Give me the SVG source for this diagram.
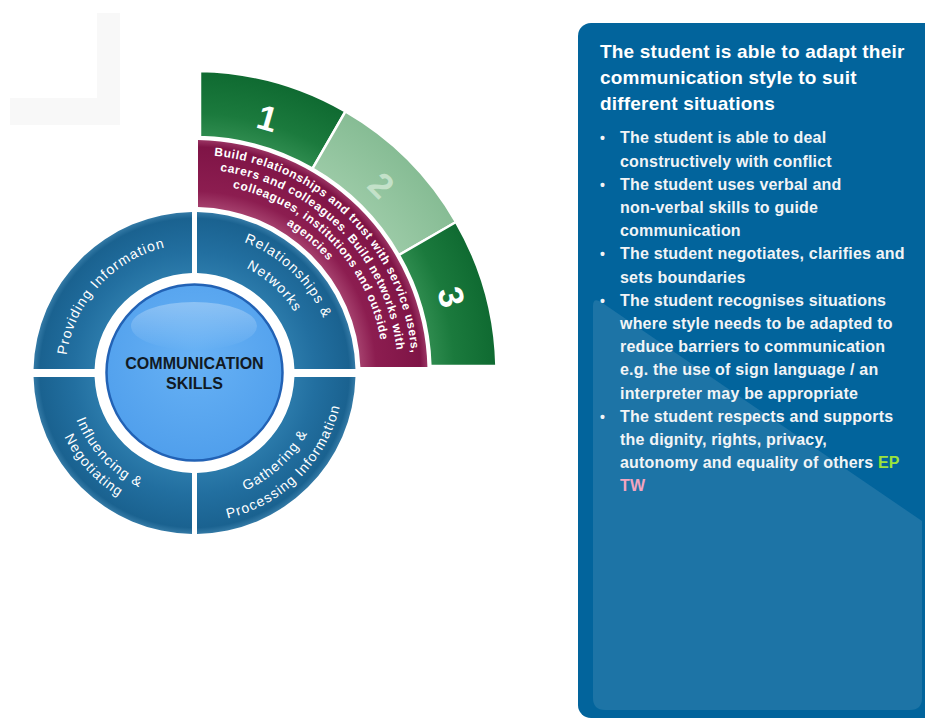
<svg xmlns="http://www.w3.org/2000/svg" width="925" height="719" viewBox="0 0 925 719">
<style>
text{font-family:"Liberation Sans",Arial,sans-serif}
.num{font-size:35px;font-weight:bold;fill:#fff;text-anchor:middle}
.mag{font-size:12px;font-weight:bold;fill:#fff;letter-spacing:0.6px}
.blu{font-size:14px;fill:#fff;letter-spacing:1.1px}
.ctr{font-size:16px;font-weight:bold;fill:#111a24;text-anchor:middle}
.hd{font-size:19px;font-weight:bold;fill:#fff;letter-spacing:0.2px}
.bl{font-size:16px;font-weight:bold;fill:#f2f4f6;letter-spacing:0.2px}
.dot{font-size:14px;font-weight:bold;fill:#f2f4f6}
.gseg{stroke:#fff;stroke-width:2.5;stroke-linejoin:round}
</style>
<defs>
<radialGradient id="gBlue" gradientUnits="userSpaceOnUse" cx="194.5" cy="373" r="161">
<stop offset="0.62" stop-color="#2b7aaa"/>
<stop offset="0.75" stop-color="#226fa0"/>
<stop offset="0.96" stop-color="#1a6290"/>
<stop offset="1" stop-color="#347aa6"/>
</radialGradient>
<radialGradient id="gMag" gradientUnits="userSpaceOnUse" cx="194.5" cy="373" r="233">
<stop offset="0.71" stop-color="#a5406d"/>
<stop offset="0.78" stop-color="#8c1d50"/>
<stop offset="0.97" stop-color="#7f1446"/>
<stop offset="1" stop-color="#9a3463"/>
</radialGradient>
<radialGradient id="gGreen" gradientUnits="userSpaceOnUse" cx="194.5" cy="373" r="302">
<stop offset="0.78" stop-color="#2f8c4f"/>
<stop offset="0.86" stop-color="#1b7a3d"/>
<stop offset="1" stop-color="#0f6a31"/>
</radialGradient>
<radialGradient id="gLight" gradientUnits="userSpaceOnUse" cx="194.5" cy="373" r="302">
<stop offset="0.78" stop-color="#9bcaa6"/>
<stop offset="1" stop-color="#86bc94"/>
</radialGradient>
<radialGradient id="gCore" cx="0.5" cy="0.4" r="0.6">
<stop offset="0" stop-color="#68b2f5"/>
<stop offset="1" stop-color="#509fec"/>
</radialGradient>
<linearGradient id="gShine" x1="0" y1="0" x2="0" y2="1">
<stop offset="0" stop-color="#ffffff" stop-opacity="0.3"/>
<stop offset="1" stop-color="#ffffff" stop-opacity="0"/>
</linearGradient>
<path id="m1" d="M194.5,155 A218,218 0 0 1 412.5,373"/>
<path id="m2" d="M194.5,169.5 A203.5,203.5 0 0 1 398,373"/>
<path id="m3" d="M194.5,184 A189,189 0 0 1 383.5,373"/>
<path id="m4" d="M194.5,198.5 A174.5,174.5 0 0 1 369,373"/>
<path id="tr1" d="M194.5,233 A140,140 0 0 1 334.5,373"/>
<path id="tr2" d="M194.5,256 A117,117 0 0 1 311.5,373"/>
<path id="tl1" d="M65.5,373 A129,129 0 0 1 194.5,244"/>
<path id="bl1" d="M67.5,373 A127,127 0 0 0 194.5,500"/>
<path id="bl2" d="M49.5,373 A145,145 0 0 0 194.5,518"/>
<path id="br1" d="M194.5,501 A128,128 0 0 0 322.5,373"/>
<path id="br2" d="M194.5,522 A149,149 0 0 0 343.5,373"/>
</defs>
<rect width="925" height="719" fill="#fff"/>
<path d="M97,13 L120,13 L120,125 L10,125 L10,98 L97,98 Z" fill="#f8f8f8"/>

<g id="level-1">
<path class="gseg" fill="url(#gGreen)" d="M200,71.05 A302,302 0 0 1 345.5,111.46 L312.5,168.62 A236,236 0 0 0 200,137.06 Z"/>
<text class="num" transform="translate(267.5,118) rotate(16)" y="12.5">1</text>
</g>
<g id="level-2">
<path class="gseg" fill="url(#gLight)" d="M345.5,111.46 A302,302 0 0 1 456.04,222 L398.88,255 A236,236 0 0 0 312.5,168.62 Z"/>
<text class="num" style="fill:#c3e1c9" transform="translate(381.5,185) rotate(45)" y="12.5">2</text>
</g>
<g id="level-3">
<path class="gseg" fill="url(#gGreen)" d="M456.04,222 A302,302 0 0 1 496.42,366 L430.4,366 A236,236 0 0 0 398.88,255 Z"/>
<text class="num" transform="translate(451.5,297) rotate(75)" y="12.5">3</text>
</g>

<g id="description">
<path fill="url(#gMag)" d="M198,140.03 A233,233 0 0 1 427.42,367 L360.39,367 A166,166 0 0 0 198,207.04 Z"/>
<text class="mag"><textPath href="#m1" startOffset="50%" text-anchor="middle">Build relationships and trust with service users,</textPath></text>
<text class="mag"><textPath href="#m2" startOffset="50.5%" text-anchor="middle">carers and colleagues. Build networks with</textPath></text>
<text class="mag"><textPath href="#m3" startOffset="51%" text-anchor="middle">colleagues, institutions and outside</textPath></text>
<text class="mag"><textPath href="#m4" startOffset="45.5%" text-anchor="middle">agencies</textPath></text>
</g>

<g id="relationships-networks">
<path fill="url(#gBlue)" d="M197,212.02 A161,161 0 0 1 355.45,369 L294.42,369 A100,100 0 0 0 197,273.03 Z"/>
<text class="blu"><textPath href="#tr1" startOffset="48.9%" text-anchor="middle">Relationships &amp;</textPath></text>
<text class="blu"><textPath href="#tr2" startOffset="47.4%" text-anchor="middle">Networks</textPath></text>
</g>

<g id="providing-information">
<path fill="url(#gBlue)" d="M33.55,369 A161,161 0 0 1 192,212.02 L192,273.03 A100,100 0 0 0 94.58,369 Z"/>
<text class="blu"><textPath href="#tl1" startOffset="47.2%" text-anchor="middle">Providing Information</textPath></text>
</g>

<g id="influencing-negotiating">
<path fill="url(#gBlue)" d="M192,533.98 A161,161 0 0 1 33.55,377 L94.58,377 A100,100 0 0 0 192,472.97 Z"/>
<text class="blu"><textPath href="#bl1" startOffset="47.8%" text-anchor="middle">Influencing &amp;</textPath></text>
<text class="blu"><textPath href="#bl2" startOffset="47.2%" text-anchor="middle">Negotiating</textPath></text>
</g>

<g id="gathering-processing">
<path fill="url(#gBlue)" d="M355.45,377 A161,161 0 0 1 197,533.98 L197,472.97 A100,100 0 0 0 294.42,377 Z"/>
<text class="blu"><textPath href="#br1" startOffset="47.5%" text-anchor="middle">Gathering &amp;</textPath></text>
<text class="blu"><textPath href="#br2" startOffset="50%" text-anchor="middle">Processing Information</textPath></text>
</g>

<g id="communication-skills">
<circle cx="194.5" cy="372.5" r="88" fill="url(#gCore)" stroke="#2262b5" stroke-width="2.5"/>
<ellipse cx="194" cy="326" rx="63" ry="24" fill="url(#gShine)"/>
<text class="ctr" x="194.5" y="369">COMMUNICATION</text>
<text class="ctr" x="194.5" y="389">SKILLS</text>
</g>

<g id="connectors"></g>

<g id="info-panel">
<rect x="578" y="23" width="400" height="695" rx="13" fill="#02649c"/>
<path d="M593,306 Q593,297 601,302 L922,521 L922,698 Q922,710 910,710 L605,710 Q593,710 593,698 Z" fill="#1d74a6"/>
<text class="hd" x="600" y="58">The student is able to adapt their</text>
<text class="hd" x="600" y="84">communication style to suit</text>
<text class="hd" x="600" y="110">different situations</text>
<text class="dot" x="600" y="143.3">•</text>
<text class="bl" x="620" y="143.3">The student is able to deal</text>
<text class="bl" x="620" y="166.5">constructively with conflict</text>
<text class="dot" x="600" y="189.7">•</text>
<text class="bl" x="620" y="189.7">The student uses verbal and</text>
<text class="bl" x="620" y="212.9">non-verbal skills to guide</text>
<text class="bl" x="620" y="236.1">communication</text>
<text class="dot" x="600" y="259.3">•</text>
<text class="bl" x="620" y="259.3">The student negotiates, clarifies and</text>
<text class="bl" x="620" y="282.5">sets boundaries</text>
<text class="dot" x="600" y="305.7">•</text>
<text class="bl" x="620" y="305.7">The student recognises situations</text>
<text class="bl" x="620" y="328.9">where style needs to be adapted to</text>
<text class="bl" x="620" y="352.1">reduce barriers to communication</text>
<text class="bl" x="620" y="375.3">e.g. the use of sign language / an</text>
<text class="bl" x="620" y="398.5">interpreter may be appropriate</text>
<text class="dot" x="600" y="421.7">•</text>
<text class="bl" x="620" y="421.7">The student respects and supports</text>
<text class="bl" x="620" y="444.9">the dignity, rights, privacy,</text>
<text class="bl" x="620" y="468.1">autonomy and equality of others <tspan fill="#9be33a">EP</tspan></text>
<text class="bl" x="620" y="491.3" style="fill:#f3a5c0">TW</text>
</g>
</svg>
